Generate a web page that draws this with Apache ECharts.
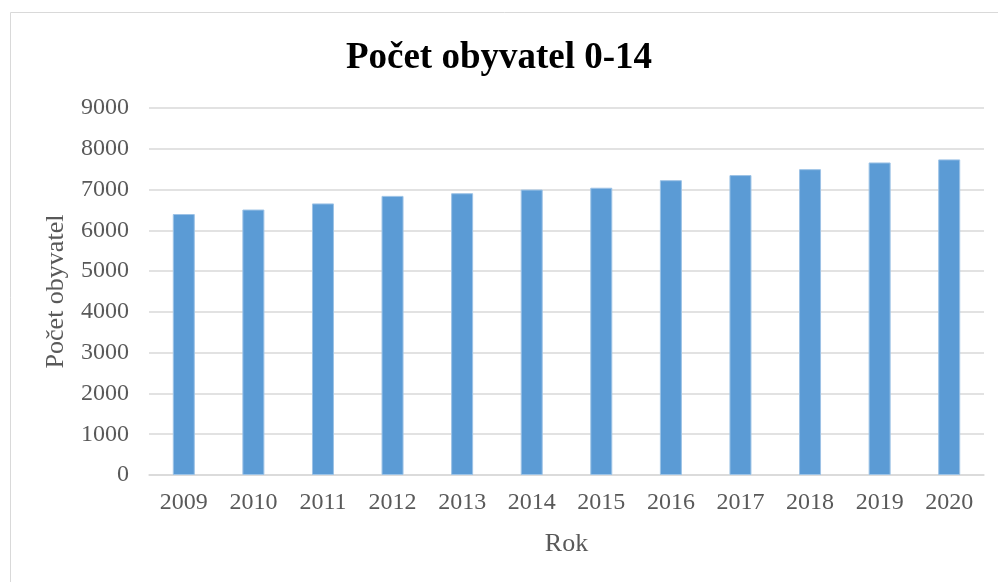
<!DOCTYPE html>
<html>
<head>
<meta charset="utf-8">
<script src="https://cdn.jsdelivr.net/npm/echarts@6/dist/echarts.min.js"></script>
<style>
  html, body { margin: 0; padding: 0; background: #fff; }
  #chart { width: 998px; height: 582px; }
</style>
</head>
<body>
<div id="chart"></div>
<script>
var years = ['2009', '2010', '2011', '2012', '2013', '2014', '2015', '2016', '2017', '2018', '2019', '2020'];
var obyvatel = [6400, 6510, 6660, 6845, 6910, 7000, 7045, 7230, 7355, 7500, 7665, 7740];

var chartDom = document.getElementById('chart');
var myChart = echarts.init(chartDom);
var font = '"Liberation Serif", "Times New Roman", serif';
var option;

option = {
  animation: false,
  graphic: [
    {
      type: 'rect',
      shape: { x: 10.5, y: 12.5, width: 1000, height: 600 },
      style: { fill: 'none', stroke: '#d9d9d9', lineWidth: 1 }
    }
  ],
  title: {
    text: 'Počet obyvatel 0-14',
    left: 'center',
    top: 35,
    textStyle: { fontFamily: font, fontSize: 37, fontWeight: 'bold', color: '#000' }
  },
  grid: { left: 149, right: 14, top: 108, bottom: 107 },
  xAxis: {
    type: 'category',
    data: years,
    name: 'Rok',
    nameLocation: 'middle',
    nameGap: 56,
    nameTextStyle: { fontFamily: font, fontSize: 26, color: '#595959' },
    axisLine: { lineStyle: { color: '#d9d9d9', width: 1.5 } },
    axisTick: { show: false },
    axisLabel: { fontFamily: font, fontSize: 24, color: '#595959', margin: 16 }
  },
  yAxis: {
    type: 'value',
    min: 0,
    max: 9000,
    interval: 1000,
    name: 'Počet obyvatel',
    nameLocation: 'middle',
    nameGap: 80,
    nameTextStyle: { fontFamily: font, fontSize: 26, color: '#595959' },
    axisLine: { show: false },
    axisTick: { show: false },
    axisLabel: {
      fontFamily: font, fontSize: 24, color: '#595959', margin: 20,
      formatter: function (v) { return String(v); }
    },
    splitLine: { lineStyle: { color: '#d9d9d9', width: 1.5 } }
  },
  series: [
    {
      type: 'bar',
      data: obyvatel,
      barWidth: 22,
      itemStyle: { color: '#5b9bd5', borderColor: '#9dc3e6', borderWidth: 1 }
    }
  ]
};

option && myChart.setOption(option);
</script>
</body>
</html>
